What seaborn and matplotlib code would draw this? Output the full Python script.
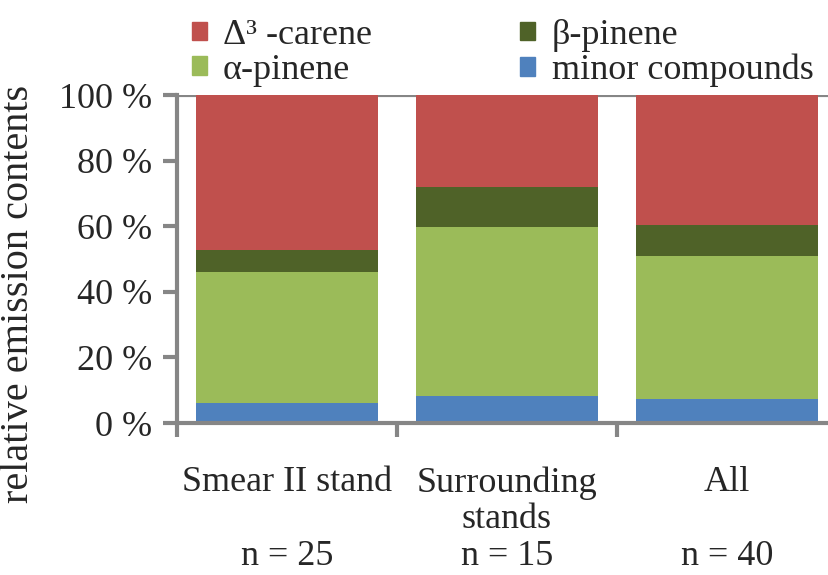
import numpy as np
import pandas as pd
import matplotlib
matplotlib.use("Agg")
import matplotlib.pyplot as plt
import seaborn as sns
from matplotlib.patches import Patch

sites = ["Smear II stand", "Surrounding stands", "All"]
tick_labels = ["Smear II stand\n\nn = 25", "Surrounding\nstands\nn = 15", "All\n\nn = 40"]
minor = [6.0, 8.2, 7.3]
alpha_pinene = [39.9, 51.6, 43.5]
beta_pinene = [6.7, 12.2, 9.6]
carene = [47.4, 28.0, 39.6]

colors = {"minor": "#4F81BD", "alpha": "#9BBB59", "beta": "#4F6228", "carene": "#C0504D"}

sns.set_style("white")
plt.rcParams["font.family"] = ["Liberation Serif", "DejaVu Serif"]

fig = plt.figure(figsize=(8.29, 5.75), dpi=100)
ax = fig.add_axes([177 / 829, 1 - 423 / 575, 1 - 177 / 829, (423 - 95) / 575])

layers = [("minor", minor), ("alpha", alpha_pinene), ("beta", beta_pinene), ("carene", carene)]
bottom = np.zeros(len(sites))
for key, vals in layers:
    df = pd.DataFrame({"site": sites, "val": vals})
    sns.barplot(data=df, x="site", y="val", color=colors[key], bottom=bottom,
                width=0.83, ax=ax, saturation=1, edgecolor="none")
    bottom = bottom + np.array(vals)

gray = "#868686"
ax.set_ylim(0, 100)
ax.set_xlim(-0.5, 2.5 - 8 / 220)
ax.set_yticks([0, 20, 40, 60, 80, 100])
ax.set_yticklabels([f"{v} %" for v in [0, 20, 40, 60, 80, 100]])
ax.axhline(100, color=gray, lw=3, zorder=0.5)
for s in ["top", "right"]:
    ax.spines[s].set_visible(False)
for s in ["left", "bottom"]:
    ax.spines[s].set_color(gray)
    ax.spines[s].set_linewidth(3)
ax.tick_params(axis="y", direction="out", length=10, width=3, color=gray, labelsize=26, pad=8, left=True)
ax.set_xticks([-0.5, 0.5, 1.5])
ax.set_xticklabels([])
ax.tick_params(axis="x", direction="out", length=10, width=3, color=gray, bottom=True)
ax.set_xticks([0, 1, 2], minor=True)
ax.set_xticklabels(tick_labels, minor=True, fontsize=26, linespacing=1.15)
ax.tick_params(axis="x", which="minor", length=0, pad=31)
ax.set_xlabel("")
ax.set_ylabel("relative emission contents", fontsize=29)
ax.yaxis.set_label_coords(-0.214, 0.395)

handles = [Patch(color=colors["carene"], label="Δ³ -carene"),
           Patch(color=colors["alpha"], label="α-pinene"),
           Patch(color=colors["beta"], label="β-pinene"),
           Patch(color=colors["minor"], label="minor compounds")]
fig.legend(handles=handles, ncol=2, loc="upper left", bbox_to_anchor=(170 / 829, 1.005),
           frameon=False, fontsize=26, handlelength=0.42, handleheight=0.42,
           columnspacing=4.1, handletextpad=0.45, labelspacing=0.05, borderaxespad=0.2)

fig.savefig("out.png", dpi=100)
